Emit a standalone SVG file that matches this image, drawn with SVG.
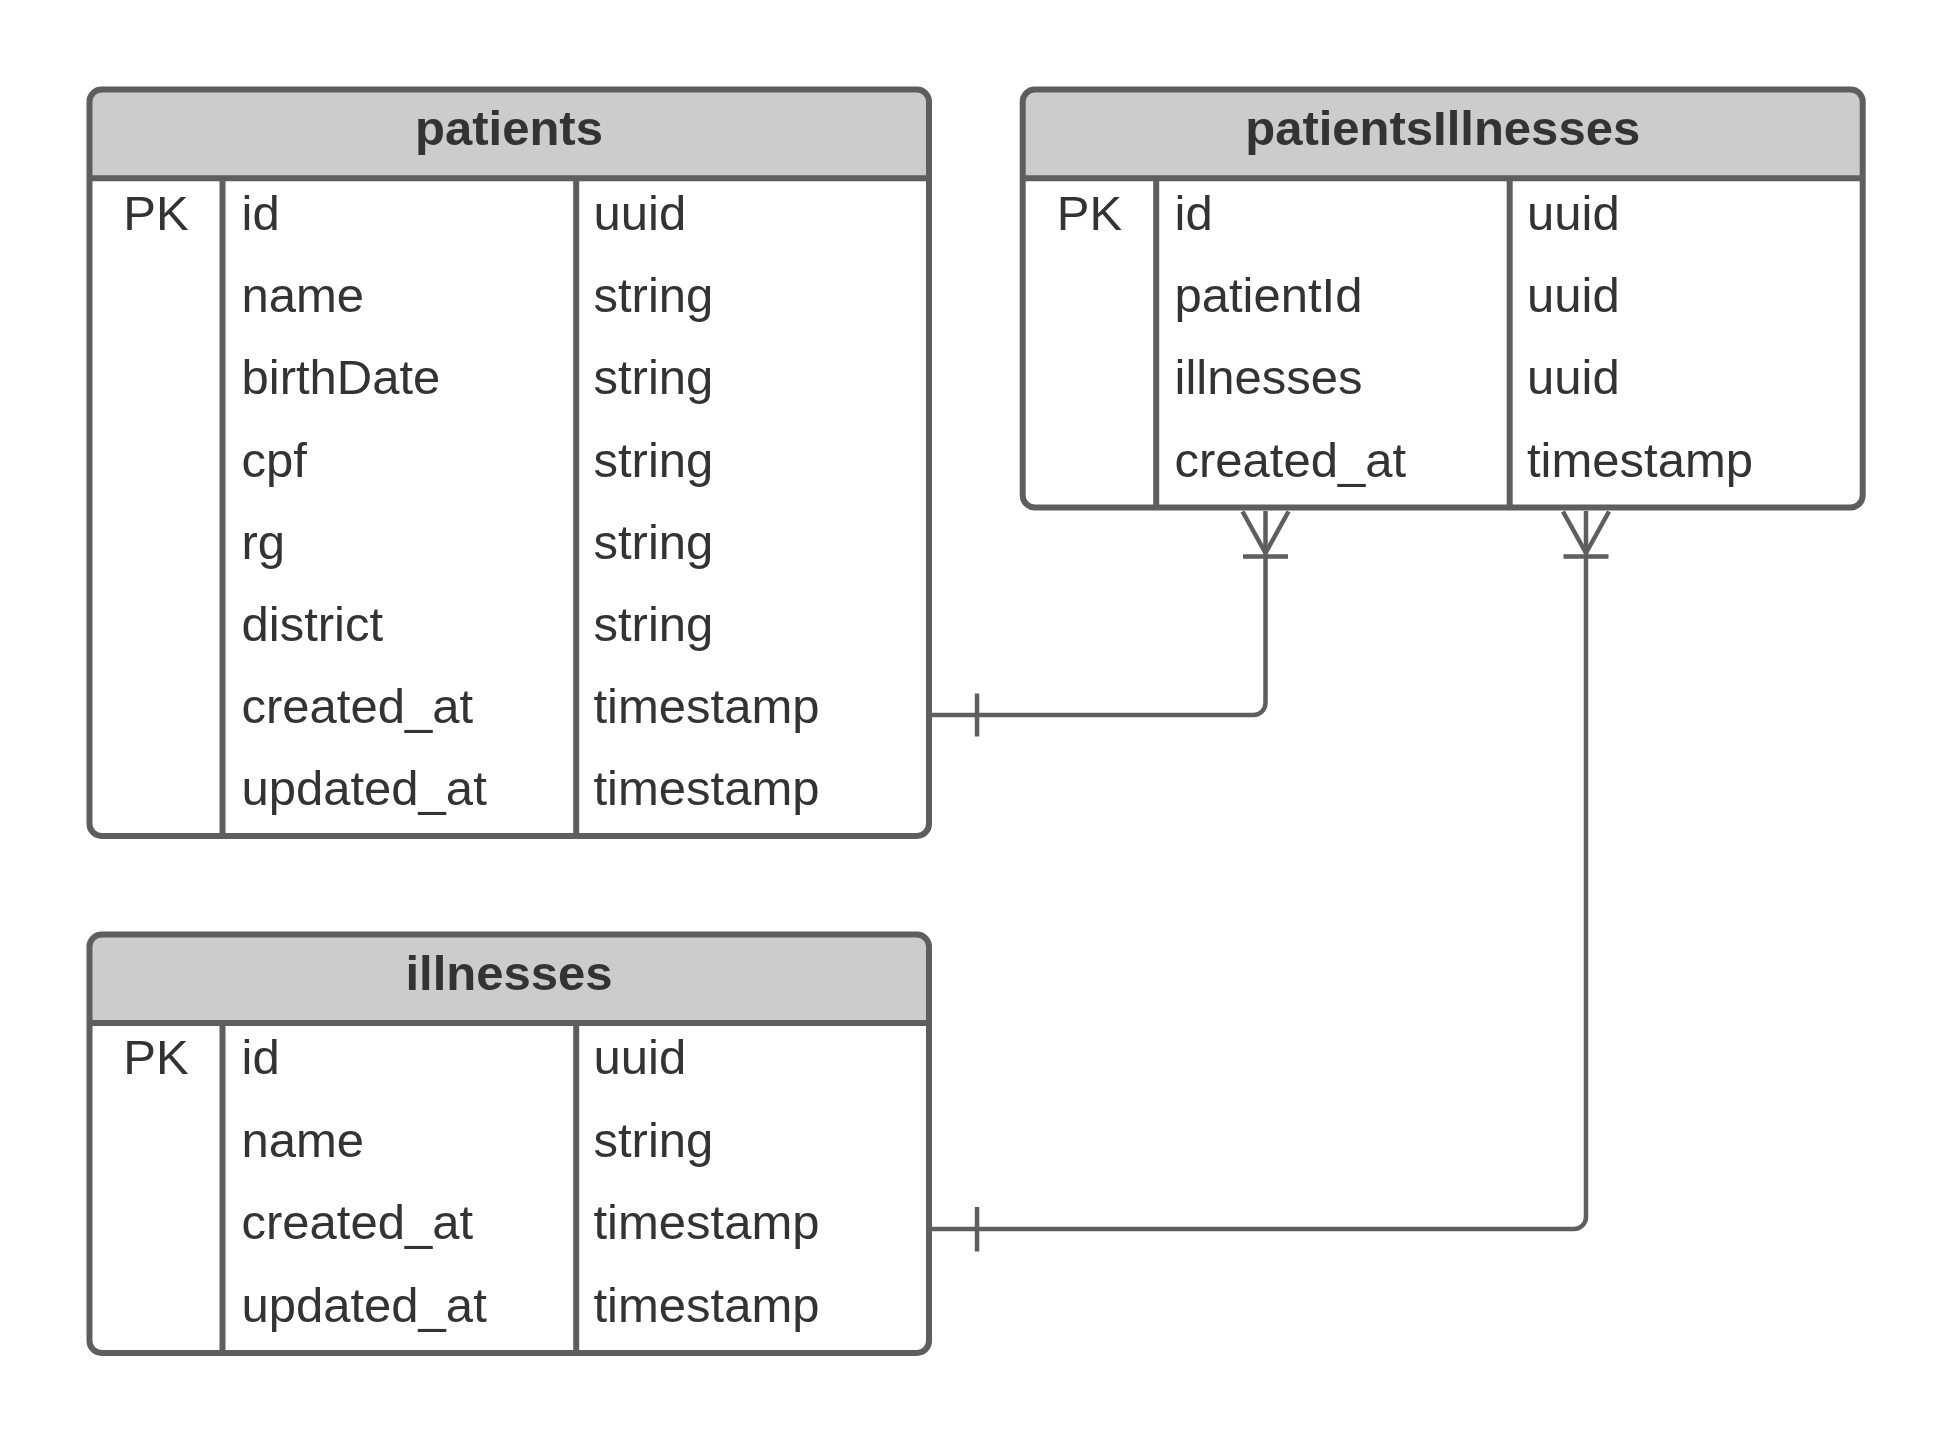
<svg xmlns="http://www.w3.org/2000/svg" width="1951" height="1440" viewBox="0 0 1951 1440">
<style>
.body{fill:#ffffff;stroke:none}
.head{fill:#cccccc;stroke:none}
.border{fill:none;stroke:#5e5e5e;stroke-width:6}
.grid{stroke:#5e5e5e;stroke-width:6;fill:none}
.title{font-family:"Liberation Sans",Arial,sans-serif;font-size:49px;font-weight:bold;fill:#333333;text-anchor:middle}
.cell{font-family:"Liberation Sans",Arial,sans-serif;font-size:49px;fill:#333333}
.pk{text-anchor:middle}
.conn{fill:none;stroke:#5e5e5e;stroke-width:4.5;stroke-linejoin:round}
</style>
<rect width="1951" height="1440" fill="#ffffff"/>

<g id="patients">
<rect class="body" x="89.5" y="89.5" width="839.5" height="746.5" rx="12"/>
<path class="head" d="M89.5,178.3 V101.5 A12,12 0 0 1 101.5,89.5 H917 A12,12 0 0 1 929,101.5 V178.3 Z"/>
<line class="grid" x1="89.5" y1="178.3" x2="929" y2="178.3"/>
<line class="grid" x1="222.5" y1="178.3" x2="222.5" y2="836"/>
<line class="grid" x1="576.2" y1="178.3" x2="576.2" y2="836"/>
<rect class="border" x="89.5" y="89.5" width="839.5" height="746.5" rx="12"/>
<text class="title" x="509" y="144.5">patients</text>
<text class="cell pk" x="156" y="230">PK</text>
<text class="cell" x="241.5" y="230">id</text>
<text class="cell" x="593.5" y="230">uuid</text>
<text class="cell" x="241.5" y="312.2">name</text>
<text class="cell" x="593.5" y="312.2">string</text>
<text class="cell" x="241.5" y="394.4">birthDate</text>
<text class="cell" x="593.5" y="394.4">string</text>
<text class="cell" x="241.5" y="476.6">cpf</text>
<text class="cell" x="593.5" y="476.6">string</text>
<text class="cell" x="241.5" y="558.8">rg</text>
<text class="cell" x="593.5" y="558.8">string</text>
<text class="cell" x="241.5" y="641">district</text>
<text class="cell" x="593.5" y="641">string</text>
<text class="cell" x="241.5" y="723.2">created_at</text>
<text class="cell" x="593.5" y="723.2">timestamp</text>
<text class="cell" x="241.5" y="805.4">updated_at</text>
<text class="cell" x="593.5" y="805.4">timestamp</text>
</g>

<g id="patientsIllnesses">
<rect class="body" x="1022.7" y="89.5" width="840" height="418" rx="12"/>
<path class="head" d="M1022.7,178.3 V101.5 A12,12 0 0 1 1034.7,89.5 H1850.7 A12,12 0 0 1 1862.7,101.5 V178.3 Z"/>
<line class="grid" x1="1022.7" y1="178.3" x2="1862.7" y2="178.3"/>
<line class="grid" x1="1156.2" y1="178.3" x2="1156.2" y2="507.5"/>
<line class="grid" x1="1509.7" y1="178.3" x2="1509.7" y2="507.5"/>
<rect class="border" x="1022.7" y="89.5" width="840" height="418" rx="12"/>
<text class="title" x="1442.7" y="144.5">patientsIllnesses</text>
<text class="cell pk" x="1089.5" y="230">PK</text>
<text class="cell" x="1174.5" y="230">id</text>
<text class="cell" x="1527" y="230">uuid</text>
<text class="cell" x="1174.5" y="312.2">patientId</text>
<text class="cell" x="1527" y="312.2">uuid</text>
<text class="cell" x="1174.5" y="394.4">illnesses</text>
<text class="cell" x="1527" y="394.4">uuid</text>
<text class="cell" x="1174.5" y="476.6">created_at</text>
<text class="cell" x="1527" y="476.6">timestamp</text>
</g>

<g id="illnesses">
<rect class="body" x="89.5" y="934.5" width="839.5" height="418.5" rx="12"/>
<path class="head" d="M89.5,1023 V946.5 A12,12 0 0 1 101.5,934.5 H917 A12,12 0 0 1 929,946.5 V1023 Z"/>
<line class="grid" x1="89.5" y1="1023" x2="929" y2="1023"/>
<line class="grid" x1="222.5" y1="1023" x2="222.5" y2="1353"/>
<line class="grid" x1="576.2" y1="1023" x2="576.2" y2="1353"/>
<rect class="border" x="89.5" y="934.5" width="839.5" height="418.5" rx="12"/>
<text class="title" x="509" y="989.5">illnesses</text>
<text class="cell pk" x="156" y="1074">PK</text>
<text class="cell" x="241.5" y="1074">id</text>
<text class="cell" x="593.5" y="1074">uuid</text>
<text class="cell" x="241.5" y="1156.5">name</text>
<text class="cell" x="593.5" y="1156.5">string</text>
<text class="cell" x="241.5" y="1239">created_at</text>
<text class="cell" x="593.5" y="1239">timestamp</text>
<text class="cell" x="241.5" y="1321.5">updated_at</text>
<text class="cell" x="593.5" y="1321.5">timestamp</text>
</g>

<g id="connectors">
<path class="conn" d="M932,715 H1253.5 A12,12 0 0 0 1265.5,703 V511"/>
<line class="conn" x1="977" y1="693.5" x2="977" y2="736.5"/>
<path class="conn" d="M1242.5,511.5 L1265.5,553 L1288.5,511.5"/>
<line class="conn" x1="1243" y1="556.5" x2="1288" y2="556.5"/>

<path class="conn" d="M932,1229 H1574 A12,12 0 0 0 1586,1217 V511"/>
<line class="conn" x1="977" y1="1207" x2="977" y2="1251.5"/>
<path class="conn" d="M1563,511.5 L1586,553 L1609,511.5"/>
<line class="conn" x1="1563.5" y1="556.5" x2="1608.5" y2="556.5"/>
</g>
</svg>
